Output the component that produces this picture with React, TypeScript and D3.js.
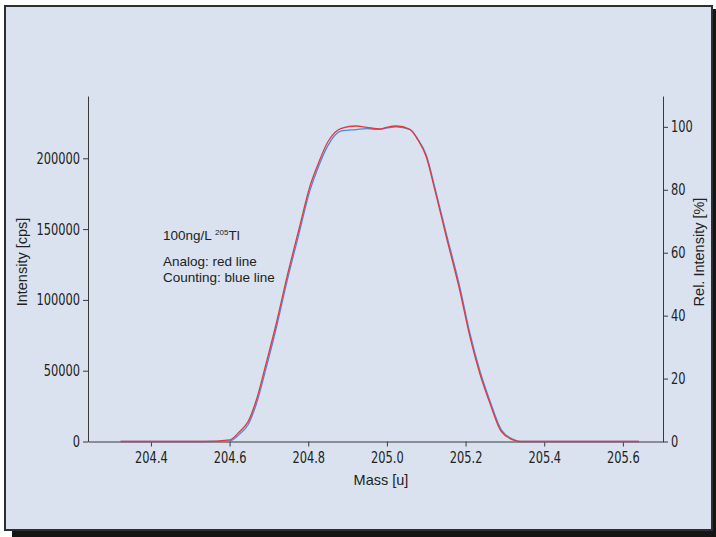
import { useEffect, useRef } from 'react';
import * as d3 from 'd3';

// mass axis [u]
const massTicks = [204.4, 204.6, 204.8, 205.0, 205.2, 205.4, 205.6];
const intensityTicks = [0, 50000, 100000, 150000, 200000];
const relTicks = [0, 20, 40, 60, 80, 100];

// analog detector (red)
const analogMass = [
  204.323, 204.536, 204.6, 204.625, 204.647, 204.668, 204.693, 204.719, 204.744,
  204.778, 204.804, 204.821, 204.85, 204.884, 204.922, 204.948, 204.982, 204.999,
  205.024, 205.058, 205.079, 205.1, 205.122, 205.151, 205.185, 205.211, 205.236,
  205.262, 205.291, 205.321, 205.338, 205.641,
];
const analogCps = [
  0, 0, 1100, 6900, 14000, 29300, 55400, 83700, 114000,
  151700, 180000, 193100, 211700, 221200, 222800, 221900, 220700, 221900,
  222800, 220500, 212900, 201100, 177600, 144600, 107000, 74000, 48200,
  27000, 6900, 1100, 0, 0,
];

// pulse counting detector (blue)
const countingMass = analogMass;
const countingCps = [
  0, 0, 400, 5200, 11800, 26500, 52000, 80500, 110800,
  148500, 177000, 190500, 209000, 219300, 220300, 220900, 220500, 221300,
  222300, 220400, 213400, 202300, 179300, 146800, 109600, 76500, 50300,
  28600, 8200, 1500, 0, 0,
];

const W = 716;
const H = 537;
const plot = { left: 88, right: 663, top: 96, bottom: 441.5 };

export default function App() {
  const svgRef = useRef<SVGSVGElement>(null);

  useEffect(() => {
    if (!svgRef.current) return;
    const svg = d3.select(svgRef.current);
    svg.selectAll('*').remove();

    // frame with drop shadow
    svg.append('rect').attr('x', 12).attr('y', 9).attr('width', W - 12).attr('height', H - 9).attr('fill', '#151515');
    svg
      .append('rect')
      .attr('x', 5)
      .attr('y', 6)
      .attr('width', 707)
      .attr('height', 524)
      .attr('fill', '#d9e2ee')
      .attr('stroke', '#2e2e2e')
      .attr('stroke-width', 2);

    const x = d3.scaleLinear().domain([204.24, 205.702]).range([plot.left, plot.right]);
    const y = d3.scaleLinear().domain([0, 244000]).range([plot.bottom, plot.top]);
    const yRel = d3.scaleLinear().domain([0, 109.8]).range([plot.bottom, plot.top]);

    const tickFont = "'DejaVu Sans Condensed', 'DejaVu Sans', sans-serif";
    const textFont = "'Liberation Sans', Arial, sans-serif";
    const squeeze = 0.82; // condensed look for tick numbers

    const styleAxis = (g: d3.Selection<SVGGElement, unknown, null, undefined>, offset: number) => {
      g.selectAll('path, line').attr('stroke', '#3a3a3a').attr('stroke-width', 1);
      g.selectAll('text')
        .attr('fill', '#222')
        .attr('x', offset / squeeze)
        .attr('transform', `scale(${squeeze},1)`)
        .style('font-family', tickFont)
        .style('font-size', '15.5px');
    };

    const gx = svg
      .append('g')
      .attr('transform', `translate(0,${plot.bottom})`)
      .call(
        d3.axisBottom(x).tickValues(massTicks).tickFormat(d3.format('.1f')).tickSize(5).tickSizeOuter(0).tickPadding(6)
      );
    styleAxis(gx, 0);

    const gy = svg
      .append('g')
      .attr('transform', `translate(${plot.left},0)`)
      .call(d3.axisLeft(y).tickValues(intensityTicks).tickFormat(d3.format('d')).tickSize(5).tickSizeOuter(0).tickPadding(3));
    styleAxis(gy, -8);

    const gr = svg
      .append('g')
      .attr('transform', `translate(${plot.right},0)`)
      .call(d3.axisRight(yRel).tickValues(relTicks).tickFormat(d3.format('d')).tickSize(5).tickSizeOuter(0).tickPadding(3));
    styleAxis(gr, 8);

    const lineC = d3
      .line<number>()
      .x((_, i) => x(countingMass[i]))
      .y((d) => y(d))
      .curve(d3.curveMonotoneX);

    svg
      .append('path')
      .attr('d', lineC(countingCps))
      .attr('fill', 'none')
      .attr('stroke', '#4d8ad4')
      .attr('stroke-width', 1.3);

    const lineA = d3
      .line<number>()
      .x((_, i) => x(analogMass[i]))
      .y((d) => y(d))
      .curve(d3.curveMonotoneX);

    svg
      .append('path')
      .attr('d', lineA(analogCps))
      .attr('fill', 'none')
      .attr('stroke', '#e5373c')
      .attr('stroke-width', 1.3);

    // axis titles
    const title = (t: string, transform: string) =>
      svg
        .append('text')
        .attr('transform', transform)
        .attr('text-anchor', 'middle')
        .attr('fill', '#222')
        .style('font-family', textFont)
        .style('font-size', '14.5px')
        .text(t);

    title('Mass [u]', 'translate(381,485)');
    title('Intensity [cps]', 'translate(26.5,262) rotate(-90)');
    title('Rel. Intensity [%]', 'translate(703.5,252) rotate(-90)');

    // annotation
    const note = svg
      .append('text')
      .attr('x', 163)
      .attr('y', 239.5)
      .attr('fill', '#222')
      .style('font-family', textFont)
      .style('font-size', '13.5px');
    note.append('tspan').text('100ng/L ');
    note.append('tspan').attr('dy', -4.5).style('font-size', '8px').text('205');
    note.append('tspan').attr('dy', 4.5).text('Tl');

    svg
      .append('text')
      .attr('x', 163)
      .attr('y', 265.7)
      .attr('fill', '#222')
      .style('font-family', textFont)
      .style('font-size', '13.5px')
      .text('Analog: red line');
    svg
      .append('text')
      .attr('x', 163)
      .attr('y', 281.7)
      .attr('fill', '#222')
      .style('font-family', textFont)
      .style('font-size', '13.5px')
      .text('Counting: blue line');
  }, []);

  return (
    <svg
      ref={svgRef}
      width={W}
      height={H}
      style={{ position: 'absolute', left: 0, top: 0, display: 'block', background: '#fff' }}
    />
  );
}
